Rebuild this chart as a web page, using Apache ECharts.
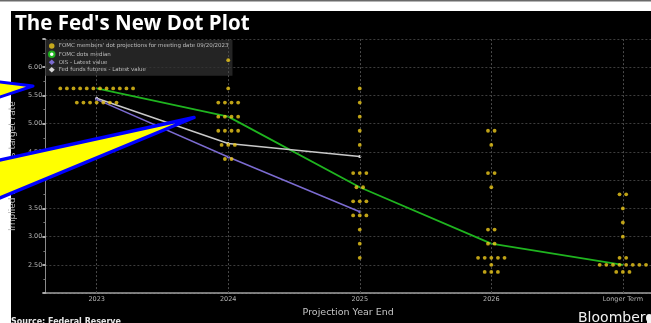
<!DOCTYPE html>
<html>
<head>
<meta charset="utf-8">
<script src="https://cdn.jsdelivr.net/npm/echarts@6/dist/echarts.min.js"></script>
<style>
  html, body { margin: 0; padding: 0; background: #fff; }
  #chart { width: 651px; height: 323px; }
</style>
</head>
<body>
<div id="chart"></div>
<script>
// Projection horizons on the x axis
const categories = ['2023', '2024', '2025', '2026', 'Longer Term'];

// FOMC participants' dots: [rate, number of participants at that rate]
const dots2023 = [[5.625, 12], [5.375, 7]];
const dots2024 = [[6.125, 1], [5.625, 1], [5.375, 4], [5.125, 4], [4.875, 4], [4.625, 3], [4.375, 2]];
const dots2025 = [[5.625, 1], [5.375, 1], [5.125, 1], [4.875, 1], [4.625, 1], [4.125, 3], [3.875, 2],
                  [3.625, 3], [3.375, 3], [3.125, 1], [2.875, 1], [2.625, 1]];
const dots2026 = [[4.875, 2], [4.625, 1], [4.125, 2], [3.875, 1], [3.125, 2], [2.875, 2], [2.625, 5],
                  [2.5, 1], [2.375, 3]];
const dotsLonger = [[3.75, 2], [3.5, 1], [3.25, 1], [3.0, 1], [2.625, 2], [2.5, 8], [2.375, 3]];

// Median of the dots per horizon
const medianDots = [5.625, 5.125, 3.875, 2.875, 2.5];
// Market-implied paths (2023 to 2025)
const oisLatest = [5.43, 4.41, 3.44];
const futuresLatest = [5.45, 4.65, 4.42];

// Y axis labels that are printed
const yTickLabels = [2.5, 3.0, 3.5, 4.0, 4.5, 5.0, 5.5, 6.0];

const DOT_STEP = 0.0503; // horizontal spacing between dots sharing a rate

function spreadColumn(col, rows) {
  const out = [];
  rows.forEach(([rate, count]) => {
    for (let k = 0; k < count; k++) {
      out.push([col + (k - (count - 1) / 2) * DOT_STEP, rate]);
    }
  });
  return out;
}

const dotPoints = [dots2023, dots2024, dots2025, dots2026, dotsLonger]
  .flatMap((rows, i) => spreadColumn(i, rows));

const toXY = arr => arr.map((v, i) => [i, v]);

const chart = echarts.init(document.getElementById('chart'), null, { renderer: 'canvas' });

const gridColor = '#3d3d3d';
const labelColor = '#b4b4b4';

chart.setOption({
  backgroundColor: '#ffffff',
  animation: false,
  title: {
    text: "The Fed's New Dot Plot",
    left: 10,
    top: 9,
    textStyle: { color: '#ffffff', fontFamily: 'Open Sans', fontWeight: 'bold', fontSize: 20.5 }
  },
  legend: {
    orient: 'vertical',
    left: 45,
    top: 40,
    padding: [3, 4, 3, 3],
    itemGap: 1.4,
    itemWidth: 6,
    itemHeight: 5.5,
    backgroundColor: 'rgba(48,48,48,0.75)',
    textStyle: { color: '#bdbdbd', fontSize: 5.5, fontFamily: 'DejaVu Sans', padding: [0, 0, 0, -1] },
    data: [
      { name: "FOMC members' dot projections for meeting date 09/20/2023", icon: 'circle' },
      { name: 'FOMC dots median', icon: 'emptyCircle' },
      { name: 'OIS - Latest value', icon: 'diamond' },
      { name: 'Fed funds futures - Latest value', icon: 'diamond' }
    ]
  },
  grid: { left: 41, right: 0, top: 39, bottom: 29, containLabel: false },
  xAxis: {
    type: 'value',
    min: -0.39,
    max: 4.214,
    name: 'Projection Year End',
    nameLocation: 'middle',
    nameGap: 12,
    nameTextStyle: { color: '#c4c4c4', fontSize: 9.5, fontFamily: 'DejaVu Sans' },
    axisLine: { show: true, onZero: false, lineStyle: { color: '#a0a0a0', width: 1.5 } },
    axisTick: { show: false },
    axisLabel: {
      customValues: [0, 1, 2, 3, 4],
      color: labelColor,
      fontSize: 6.5,
      fontFamily: 'DejaVu Sans',
      margin: 3,
      formatter: v => categories[Math.round(v)] ?? ''
    },
    splitLine: { show: false }
  },
  yAxis: {
    type: 'value',
    min: 2.0,
    max: 6.5,
    interval: 0.5,
    name: 'Implied fed funds target rate',
    nameLocation: 'middle',
    nameGap: 20,
    nameTextStyle: { color: '#b8b8b8', fontSize: 9, fontFamily: 'DejaVu Sans' },
    axisLine: { show: true, onZero: false, lineStyle: { color: '#8a8a8a', width: 1 } },
    axisTick: { show: true, length: 3, lineStyle: { color: '#e0e0e0', width: 1.5 } },
    minorTick: { show: true, splitNumber: 2, length: 2, lineStyle: { color: '#777' } },
    axisLabel: {
      color: labelColor,
      fontSize: 6.5,
      fontFamily: 'DejaVu Sans',
      margin: 3,
      formatter: v => yTickLabels.some(t => Math.abs(t - v) < 1e-6) ? v.toFixed(2) : ''
    },
    splitLine: { show: true, lineStyle: { color: gridColor, type: [2, 2], width: 1 } }
  },
  series: [
    {
      name: 'FOMC dots median',
      type: 'line',
      data: toXY(medianDots),
      symbol: 'none',
      z: 3,
      lineStyle: { color: '#1fb41f', width: 1.8 },
      itemStyle: { color: '#1fb41f' },
      markLine: {
        silent: true,
        symbol: 'none',
        label: { show: false },
        lineStyle: { color: '#4a4a4a', type: [2, 2], width: 1 },
        data: categories.map((c, i) => ({ xAxis: i }))
      }
    },
    {
      name: 'Fed funds futures - Latest value',
      type: 'line',
      data: toXY(futuresLatest),
      symbol: 'circle',
      symbolSize: 3,
      z: 3,
      lineStyle: { color: '#c9c9c9', width: 1.5 },
      itemStyle: { color: '#d6d6d6' }
    },
    {
      name: 'OIS - Latest value',
      type: 'line',
      data: toXY(oisLatest),
      symbol: 'circle',
      symbolSize: 3,
      z: 3,
      lineStyle: { color: '#7b6bd0', width: 1.5 },
      itemStyle: { color: '#7b6bd0' }
    },
    {
      name: "FOMC members' dot projections for meeting date 09/20/2023",
      type: 'scatter',
      data: dotPoints,
      symbol: 'circle',
      symbolSize: 3.8,
      z: 5,
      itemStyle: { color: '#efcb1c' }
    }
  ],
  graphic: [
    // dark panel behind the plot
    { type: 'rect', z: -100, shape: { x: 11, y: 11, width: 640, height: 312 }, style: { fill: '#000000' } },
    { type: 'rect', z: -100, shape: { x: 0, y: 0, width: 651, height: 1.5 }, style: { fill: '#6a6a6a' } },
    {
      type: 'text', left: 11, top: 318, z: 10,
      style: { text: 'Source: Federal Reserve', fill: '#e8e8e8', font: 'bold 8px "DejaVu Sans"' }
    },
    {
      type: 'text', left: 578, top: 311, z: 10,
      style: { text: 'Bloomberg', fill: '#f2f2f2', font: '14px "DejaVu Sans"' }
    },
    { type: 'rect', z: 10, shape: { x: 647, y: 315, width: 6, height: 8 }, style: { fill: '#f2f2f2' } },
    // highlight wedges
    {
      type: 'polygon', z: 100,
      shape: { points: [[-10, 80.8], [33, 86], [-10, 100.3]] },
      style: { fill: '#ffff00', stroke: '#0000ff', lineWidth: 3, lineJoin: 'round' }
    },
    {
      type: 'polygon', z: 100,
      shape: { points: [[-10, 162.2], [194, 117.5], [-10, 202]] },
      style: { fill: '#ffff00', stroke: '#0000ff', lineWidth: 3.5, lineJoin: 'round' }
    }
  ]
});
</script>
</body>
</html>
